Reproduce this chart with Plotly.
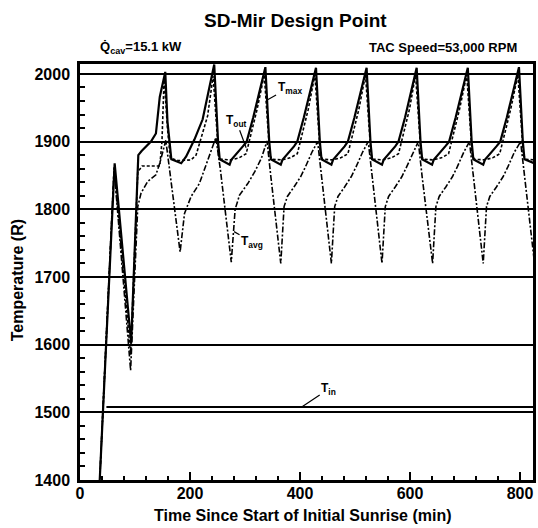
import plotly.graph_objects as go

# ---- data ----
t_max_time = [33, 63, 93, 106, 112, 129, 138, 145, 155, 159, 166, 184, 193, 208, 223, 244,
              251, 254, 272, 275, 296, 303, 315, 327, 337,
              344, 347, 365, 368, 389, 395, 407, 419, 429,
              436, 439, 457, 460, 481, 487, 499, 511, 521,
              528, 531, 549, 552, 573, 579, 591, 603, 612,
              619, 622, 640, 643, 664, 671, 683, 695, 705,
              712, 715, 733, 736, 757, 764, 776, 788, 798,
              805, 808, 826]
t_max_temp = [1350, 1868, 1602, 1880, 1886, 1900, 1912, 1966, 2003, 1930, 1874, 1868, 1878, 1903, 1933, 2014,
              1900, 1874, 1866, 1873, 1893, 1900, 1936, 1976, 2010,
              1900, 1874, 1866, 1873, 1893, 1900, 1936, 1976, 2009,
              1900, 1874, 1866, 1873, 1893, 1900, 1936, 1976, 2009,
              1900, 1874, 1866, 1873, 1893, 1900, 1936, 1976, 2009,
              1900, 1874, 1866, 1873, 1893, 1900, 1936, 1976, 2009,
              1900, 1874, 1866, 1873, 1893, 1900, 1936, 1976, 2010,
              1900, 1874, 1868]

t_out_time = [33, 62, 92, 105, 113, 145, 149, 153, 159, 164, 178, 202, 211, 232, 242,
              252, 256, 274, 289, 302, 322, 335,
              345, 349, 367, 382, 395, 415, 427,
              437, 441, 459, 474, 487, 507, 519,
              529, 533, 551, 566, 579, 599, 610,
              620, 624, 642, 657, 670, 690, 703,
              713, 717, 735, 750, 763, 783, 796,
              806, 810, 826]
t_out_temp = [1350, 1862, 1585, 1855, 1864, 1864, 1900, 1995, 1920, 1876, 1872, 1873, 1880, 1938, 1997,
              1880, 1874, 1873, 1876, 1882, 1948, 1999,
              1880, 1874, 1873, 1876, 1882, 1948, 1999,
              1880, 1874, 1873, 1876, 1882, 1948, 1999,
              1880, 1874, 1873, 1876, 1882, 1948, 1999,
              1880, 1874, 1873, 1876, 1882, 1948, 1999,
              1880, 1874, 1873, 1876, 1882, 1948, 1999,
              1880, 1874, 1873]

t_avg_time = [33, 62, 92, 105, 111, 123, 138, 145, 156, 166, 175, 182, 190, 202, 217, 232, 247,
              255, 263, 270, 275, 282, 290, 305, 318, 330, 340,
              347, 354, 360, 365, 371, 377, 389, 401, 410, 422, 432,
              439, 446, 452, 457, 463, 469, 481, 493, 502, 514, 524,
              531, 538, 544, 549, 555, 561, 573, 585, 594, 606, 615,
              622, 629, 635, 641, 647, 653, 665, 677, 686, 698, 708,
              715, 722, 728, 733, 739, 745, 757, 769, 778, 790, 801,
              808, 815, 821, 826]
t_avg_temp = [1350, 1860, 1562, 1804, 1824, 1841, 1851, 1868, 1902, 1838, 1789, 1737, 1794, 1819, 1838, 1873, 1906,
              1860, 1805, 1758, 1722, 1800, 1821, 1838, 1856, 1876, 1901,
              1848, 1799, 1760, 1720, 1804, 1819, 1833, 1848, 1863, 1885, 1900,
              1848, 1799, 1760, 1720, 1804, 1819, 1833, 1848, 1863, 1885, 1900,
              1848, 1799, 1760, 1720, 1804, 1819, 1833, 1848, 1863, 1885, 1900,
              1848, 1799, 1760, 1720, 1804, 1819, 1833, 1848, 1863, 1885, 1900,
              1848, 1799, 1760, 1720, 1804, 1819, 1833, 1848, 1863, 1885, 1900,
              1848, 1799, 1760, 1722]

t_in_time = [48, 826]
t_in_temp = [1508, 1508]

x_ticks = [0, 200, 400, 600, 800]
y_ticks = [1400, 1500, 1600, 1700, 1800, 1900, 2000]

FONT = "Liberation Sans, Arial, sans-serif"

fig = go.Figure()
fig.add_trace(go.Scatter(x=t_avg_time, y=t_avg_temp, mode="lines",
                         line=dict(color="black", width=1.6, dash="6px,2px,2px,2px"),
                         name="T_avg", showlegend=False))
fig.add_trace(go.Scatter(x=t_out_time, y=t_out_temp, mode="lines",
                         line=dict(color="black", width=1.6, dash="3px,2px"),
                         name="T_out", showlegend=False))
fig.add_trace(go.Scatter(x=t_max_time, y=t_max_temp, mode="lines",
                         line=dict(color="black", width=2.2),
                         name="T_max", showlegend=False))
fig.add_trace(go.Scatter(x=t_in_time, y=t_in_temp, mode="lines",
                         line=dict(color="black", width=2),
                         name="T_in", showlegend=False))

lab_font = dict(family=FONT, size=12, color="black")
arrow_common = dict(showarrow=True, arrowhead=0, arrowwidth=1.2, arrowcolor="black",
                    xanchor="center", yanchor="middle", font=lab_font)
annotations = [
    dict(x=341, y=1962, ax=22, ay=-12, text="<b>T<sub>max</sub></b>", **arrow_common),
    dict(x=302, y=1891, ax=-10, ay=-27, text="<b>T<sub>out</sub></b>", **arrow_common),
    dict(x=280, y=1767, ax=18, ay=10, text="<b>T<sub>avg</sub></b>", **arrow_common),
    dict(x=403, y=1508, ax=27, ay=-18, text="<b>T<sub>in</sub></b>", **arrow_common),
    dict(x=0.475, y=1, xref="paper", yref="paper", yshift=44, showarrow=False,
         text="<b>SD-Mir Design Point</b>", font=dict(family=FONT, size=19, color="black"),
         xanchor="center", yanchor="middle"),
    dict(x=0.04, y=1, xref="paper", yref="paper", yshift=17, showarrow=False,
         text="<b>Q\u0307<sub>cav</sub>=15.1 kW</b>", font=dict(family=FONT, size=13, color="black"),
         xanchor="left", yanchor="middle"),
    dict(x=0.97, y=1, xref="paper", yref="paper", yshift=17, showarrow=False,
         text="<b>TAC Speed=53,000 RPM</b>", font=dict(family=FONT, size=13, color="black"),
         xanchor="right", yanchor="middle"),
    dict(x=0.493, y=0, xref="paper", yref="paper", yshift=-35, showarrow=False,
         text="<b>Time Since Start of Initial Sunrise (min)</b>", font=dict(family=FONT, size=16, color="black"),
         xanchor="center", yanchor="middle"),
    dict(x=0, y=0.48, xref="paper", yref="paper", xshift=-63, showarrow=False, textangle=-90,
         text="<b>Temperature (R)</b>", font=dict(family=FONT, size=16, color="black"),
         xanchor="center", yanchor="middle"),
]

fig.update_layout(
    width=538, height=528,
    margin=dict(l=80, r=2, t=64, b=48),
    paper_bgcolor="white", plot_bgcolor="white",
    font=dict(family=FONT, color="black"),
    annotations=annotations,
    xaxis=dict(range=[0, 823.5], tickvals=x_ticks, ticktext=[f"<b>{v}</b>" for v in x_ticks],
               ticks="inside", ticklen=8, tickwidth=2, tickcolor="black",
               minor=dict(dtick=40, ticks="inside", ticklen=4, tickwidth=1.5, tickcolor="black", showgrid=False),
               showgrid=False, zeroline=False,
               showline=True, linecolor="black", linewidth=2.5, mirror=True,
               ticklabelstandoff=-3,
               tickfont=dict(family=FONT, size=16, color="black")),
    yaxis=dict(range=[1400, 2014.7], tickvals=y_ticks, ticktext=[f"<b>{v}</b>" for v in y_ticks],
               ticks="inside", ticklen=8, tickwidth=2, tickcolor="black",
               minor=dict(dtick=20, ticks="inside", ticklen=5, tickwidth=1.5, tickcolor="black", showgrid=False),
               showgrid=True, gridcolor="black", gridwidth=2, zeroline=False,
               showline=True, linecolor="black", linewidth=2.5, mirror=True,
               ticklabelstandoff=4,
               tickfont=dict(family=FONT, size=16, color="black")),
)

fig.write_html("out.html", config={"displayModeBar": False},
               post_script="document.body.style.margin='0px';document.body.style.padding='0px';")
